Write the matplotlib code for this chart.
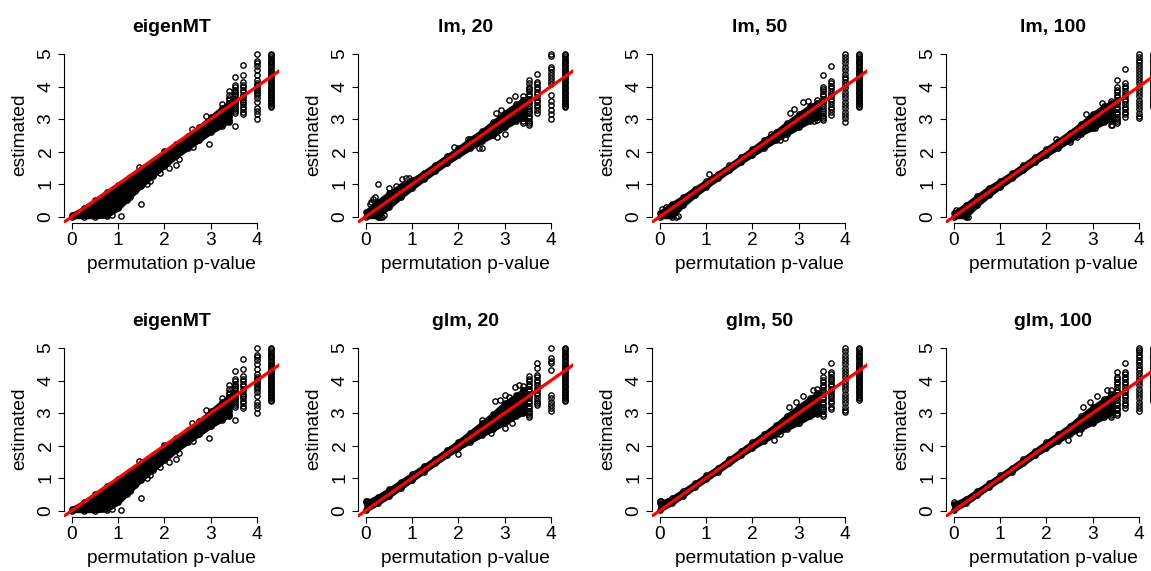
import matplotlib.pyplot as plt

plt.rcParams['font.family'] = ['Liberation Sans', 'DejaVu Sans']

band_x = [0, 0.25, 0.5, 0.75, 1.0, 1.25, 1.5, 1.75, 2.0, 2.25, 2.5, 2.75, 3.0, 3.25, 3.4]
# discrete p-value columns at the top end
col_x = [3.40, 3.52, 3.70, 4.00, 4.30]

col43 = [5.0, 4.96, 4.91, 4.86, 4.8, 4.75, 4.71, 4.65, 4.6, 4.55, 4.49, 4.44, 4.4, 4.34,
         4.29, 4.25, 4.19, 4.14, 4.1, 4.04, 3.99, 3.95, 3.89, 3.84, 3.8, 3.74, 3.69, 3.65,
         3.59, 3.54, 3.5, 3.45, 3.4, 3.36]

# eigenMT
eig_lo = [0, 0, 0, 0.02, 0.25, 0.6, 0.95, 1.25, 1.55, 1.85, 2.1, 2.35, 2.6, 2.8, 2.95]
eig_hi = [0.05, 0.25, 0.5, 0.75, 0.98, 1.22, 1.47, 1.72, 1.97, 2.22, 2.47, 2.75, 3.05, 3.35, 3.5]
eig_cols = [
    [3.85, 3.75, 3.66, 3.58, 3.5, 3.42, 3.35, 3.28, 3.2, 3.12, 3.05, 2.98, 2.9],
    [4.30, 4.05, 3.98, 3.9, 3.83, 3.76, 3.7, 3.63, 3.56, 3.5, 3.43, 3.36, 3.3, 3.24, 3.18, 2.77],
    [4.66, 4.35, 4.13, 4.05, 3.97, 3.9, 3.82, 3.75, 3.68, 3.6, 3.52, 3.45, 3.37, 3.3, 3.22, 3.15],
    [5.0, 4.8, 4.73, 4.62, 4.5, 4.36, 4.2, 4.12, 4.05, 3.98, 3.92, 3.86, 3.8, 3.74, 3.64,
     3.53, 3.33, 3.25, 3.16, 3.0],
    col43,
]
eig_out_x = [1.50, 1.05, 0.87, 2.96, 1.28, 1.36, 1.68, 1.62, 2.09, 2.25, 2.32, 2.62, 2.68,
             2.78, 1.90, 1.18, 0.62, 1.45, 2.00, 2.60, 2.90, 3.25, 3.45]
eig_out_y = [0.39, 0.03, 0.04, 2.23, 0.72, 0.80, 1.08, 1.00, 1.49, 1.57, 1.77, 2.15, 2.42,
             2.55, 1.35, 0.50, 0.55, 1.52, 2.02, 2.68, 3.08, 3.45, 3.55]

# lm, 20
lm20_lo = [0, 0, 0.3, 0.6, 0.88, 1.15, 1.4, 1.65, 1.88, 2.1, 2.32, 2.5, 2.75, 2.95, 3.1]
lm20_hi = [0.15, 0.45, 0.72, 0.95, 1.12, 1.35, 1.6, 1.85, 2.1, 2.38, 2.62, 2.9, 3.2, 3.45, 3.6]
lm20_cols = [
    [3.7, 3.6, 3.5, 3.42, 3.34, 3.26, 3.18, 3.1, 3.02, 2.95, 2.88],
    [4.2, 4.1, 4.0, 3.92, 3.85, 3.78, 3.7, 3.62, 3.55, 3.48, 3.4, 3.32, 3.25, 3.18, 3.1,
     3.02, 2.95, 2.88, 2.82],
    [4.38, 4.15, 4.07, 3.99, 3.92, 3.84, 3.76, 3.68, 3.6, 3.52, 3.44, 3.36, 3.28, 3.2],
    [5.0, 4.95, 4.61, 4.54, 4.46, 4.35, 4.27, 4.17, 4.07, 3.74, 3.56, 3.43, 3.28, 3.15, 3.0],
    col43,
]
lm20_out_x = [0.25, 0.11, 0.16, 0.20, 0.08, 0.50, 0.78, 0.87, 0.93, 0.65, 2.45, 2.50, 2.83,
              2.81, 2.93, 3.22, 3.10, 3.00, 2.20, 1.90, 0.40, 0.35, 0.30]
lm20_out_y = [0.99, 0.46, 0.55, 0.60, 0.38, 0.87, 1.16, 1.20, 1.17, 0.95, 2.10, 2.12, 2.46,
              3.20, 3.28, 3.71, 3.60, 2.55, 2.40, 2.15, 0.05, 0.00, 0.00]

# lm, 50
lm50_lo = [0, 0, 0.35, 0.65, 0.92, 1.17, 1.42, 1.67, 1.9, 2.12, 2.35, 2.55, 2.75, 2.95, 3.05]
lm50_hi = [0.12, 0.38, 0.6, 0.85, 1.08, 1.32, 1.57, 1.82, 2.08, 2.35, 2.6, 2.88, 3.15, 3.4, 3.5]
lm50_cols = [
    [3.6, 3.5, 3.42, 3.35, 3.27, 3.2, 3.12, 3.05, 2.97],
    [4.35, 4.0, 3.92, 3.85, 3.78, 3.7, 3.62, 3.55, 3.48, 3.4, 3.32, 3.25, 3.18, 3.1, 3.03, 2.97],
    [4.64, 4.17, 4.1, 4.02, 3.94, 3.86, 3.78, 3.7, 3.62, 3.54, 3.46, 3.38, 3.3, 3.22, 3.12],
    [5.0, 4.92, 4.81, 4.71, 4.61, 4.5, 4.4, 4.3, 4.23, 4.15, 4.05, 3.94, 3.84, 3.74, 3.64,
     3.53, 3.43, 3.33, 3.23, 3.12, 3.02, 2.92],
    col43,
]
lm50_out_x = [3.10, 2.81, 1.07, 3.33, 2.60, 2.70, 0.05, 0.12, 0.35, 0.38, 2.40, 2.90, 3.20]
lm50_out_y = [3.53, 3.20, 1.31, 2.94, 2.35, 2.42, 0.22, 0.28, 0.00, 0.02, 2.55, 3.30, 3.55]

# lm, 100
lm100_lo = [0, 0, 0.35, 0.65, 0.92, 1.17, 1.42, 1.67, 1.9, 2.12, 2.35, 2.55, 2.72, 2.9, 3.0]
lm100_hi = [0.12, 0.35, 0.62, 0.88, 1.1, 1.33, 1.58, 1.83, 2.08, 2.33, 2.58, 2.85, 3.15, 3.4, 3.5]
lm100_cols = [
    [3.55, 3.47, 3.4, 3.32, 3.25, 3.17, 3.1, 3.02, 2.95, 2.82],
    [4.2, 3.97, 3.9, 3.82, 3.75, 3.67, 3.6, 3.52, 3.45, 3.37, 3.3, 3.22, 3.15, 3.07, 3.0,
     2.93, 2.87],
    [4.54, 4.1, 4.02, 3.94, 3.86, 3.78, 3.7, 3.62, 3.54, 3.46, 3.38, 3.3, 3.22, 3.15, 3.07],
    [5.0, 4.92, 4.83, 4.74, 4.65, 4.56, 4.47, 4.38, 4.29, 4.2, 4.1, 4.0, 3.9, 3.8, 3.7,
     3.6, 3.5, 3.4, 3.3, 3.2, 3.1, 3.02],
    col43,
]
lm100_out_x = [2.86, 3.19, 3.41, 2.50, 2.65, 2.20, 0.30, 0.25, 0.05, 3.05]
lm100_out_y = [3.15, 3.48, 2.82, 2.30, 2.45, 2.40, 0.00, 0.02, 0.20, 2.72]

# glm, 20
glm20_lo = [0.02, 0.22, 0.45, 0.7, 0.95, 1.2, 1.45, 1.7, 1.92, 2.12, 2.32, 2.5, 2.7, 2.9, 3.0]
glm20_hi = [0.25, 0.42, 0.65, 0.88, 1.12, 1.36, 1.6, 1.86, 2.12, 2.4, 2.68, 2.98, 3.3, 3.55, 3.7]
glm20_cols = [
    [3.84, 3.7, 3.6, 3.5, 3.42, 3.34, 3.26, 3.18, 3.1, 3.02],
    [4.15, 4.05, 3.97, 3.9, 3.82, 3.75, 3.67, 3.6, 3.52, 3.45, 3.37, 3.3, 3.22, 3.15, 3.07,
     3.0, 2.93, 2.88],
    [4.53, 4.37, 4.17, 4.1, 4.02, 3.94, 3.86, 3.78, 3.7, 3.62, 3.54, 3.46, 3.38, 3.3, 3.24],
    [5.0, 4.68, 4.6, 4.53, 4.32, 3.55, 3.45, 3.35, 3.25, 3.15, 3.05],
    col43,
]
glm20_out_x = [2.79, 3.22, 1.99, 2.90, 3.00, 3.10, 3.30, 2.70, 3.00, 3.15, 2.50, 0.00, 0.02]
glm20_out_y = [3.36, 3.81, 1.75, 3.40, 3.55, 3.50, 3.85, 2.40, 2.55, 2.70, 2.80, 0.30, 0.28]

# glm, 50
glm50_lo = [0.02, 0.22, 0.46, 0.72, 0.96, 1.2, 1.45, 1.7, 1.93, 2.14, 2.35, 2.52, 2.7, 2.9, 3.0]
glm50_hi = [0.22, 0.38, 0.6, 0.84, 1.08, 1.32, 1.58, 1.84, 2.1, 2.36, 2.62, 2.92, 3.2, 3.45, 3.6]
glm50_cols = [
    [3.75, 3.62, 3.52, 3.44, 3.36, 3.28, 3.2, 3.12, 3.05, 2.98],
    [4.3, 4.1, 4.02, 3.95, 3.87, 3.8, 3.72, 3.65, 3.57, 3.5, 3.42, 3.35, 3.27, 3.2, 3.12,
     3.05, 2.97, 2.9],
    [4.53, 4.27, 4.2, 4.12, 4.05, 3.97, 3.9, 3.82, 3.75, 3.67, 3.6, 3.52, 3.45, 3.37, 3.3,
     3.2, 3.12],
    [5.0, 4.92, 4.8, 4.7, 4.6, 4.5, 4.4, 4.3, 4.2, 4.1, 4.0, 3.9, 3.8, 3.7, 3.6, 3.5, 3.4,
     3.3, 3.2, 3.1, 3.03],
    col43[:-1],
]
glm50_out_x = [2.46, 3.10, 3.30, 2.80, 2.95, 2.60, 3.00, 0.00, 0.03]
glm50_out_y = [2.17, 3.52, 3.70, 3.20, 3.35, 2.35, 2.70, 0.30, 0.28]

# glm, 100
glm100_lo = [0.02, 0.22, 0.47, 0.72, 0.96, 1.2, 1.45, 1.7, 1.93, 2.14, 2.35, 2.52, 2.7, 2.88, 3.0]
glm100_hi = [0.2, 0.36, 0.6, 0.84, 1.08, 1.32, 1.58, 1.84, 2.1, 2.35, 2.6, 2.9, 3.18, 3.42, 3.55]
glm100_cols = [
    [3.72, 3.6, 3.5, 3.42, 3.34, 3.26, 3.18, 3.1, 3.03, 2.95, 2.88],
    [4.25, 4.12, 4.04, 3.96, 3.88, 3.8, 3.72, 3.64, 3.56, 3.48, 3.4, 3.32, 3.24, 3.16, 3.08,
     3.0, 2.93],
    [4.55, 4.27, 4.2, 4.12, 4.04, 3.96, 3.88, 3.8, 3.72, 3.64, 3.56, 3.48, 3.4, 3.32, 3.24, 3.16],
    [5.0, 4.95, 4.88, 4.8, 4.72, 4.64, 4.56, 4.48, 4.4, 4.32, 4.24, 4.15, 4.05, 3.95, 3.85,
     3.75, 3.65, 3.55, 3.45, 3.35, 3.25, 3.15, 3.05],
    col43,
]
glm100_out_x = [2.46, 3.10, 3.30, 2.80, 2.95, 2.70, 3.00, 0.00]
glm100_out_y = [2.17, 3.52, 3.72, 3.20, 3.35, 2.40, 2.72, 0.25]

panels = [
    ("eigenMT", eig_lo, eig_hi, eig_cols, eig_out_x, eig_out_y),
    ("lm, 20", lm20_lo, lm20_hi, lm20_cols, lm20_out_x, lm20_out_y),
    ("lm, 50", lm50_lo, lm50_hi, lm50_cols, lm50_out_x, lm50_out_y),
    ("lm, 100", lm100_lo, lm100_hi, lm100_cols, lm100_out_x, lm100_out_y),
    ("eigenMT", eig_lo, eig_hi, eig_cols, eig_out_x, eig_out_y),
    ("glm, 20", glm20_lo, glm20_hi, glm20_cols, glm20_out_x, glm20_out_y),
    ("glm, 50", glm50_lo, glm50_hi, glm50_cols, glm50_out_x, glm50_out_y),
    ("glm, 100", glm100_lo, glm100_hi, glm100_cols, glm100_out_x, glm100_out_y),
]

W, H = 1151, 571
fig = plt.figure(figsize=(W / 100, H / 100), dpi=100)

fs = 13.8
circ = dict(ls='none', marker='o', mfc='none', mec='black', ms=3.8, mew=1.0)

for i, (title, lo, hi, cols, ox, oy) in enumerate(panels):
    r, c = divmod(i, 4)
    left = 64 + 294 * c
    top = 47.5 + 294 * r
    ax = fig.add_axes([left / W, 1 - (top + 175.5) / H, 214.8 / W, 175.5 / H])

    # dense part of the cloud
    ax.fill_between(band_x, lo, hi, color='black', lw=3.2)
    ax.plot(band_x, lo, **circ)
    ax.plot(band_x, hi, **circ)
    # scattered points and the discrete p-value columns
    ax.plot(ox, oy, **circ)
    for cx, ys in zip(col_x, cols):
        ax.plot([cx] * len(ys), ys, **circ)

    ax.axline((0, 0), slope=1, color='red', lw=2.3, zorder=5)

    ax.set_xlim(-0.172, 4.472)
    ax.set_ylim(-0.2, 5.2)
    ax.set_xticks([0, 1, 2, 3, 4])
    ax.set_yticks([0, 1, 2, 3, 4, 5])
    for s in ['top', 'right']:
        ax.spines[s].set_visible(False)
    ax.spines['bottom'].set_bounds(0, 4)
    ax.spines['left'].set_bounds(0, 5)
    for s in ['bottom', 'left']:
        ax.spines[s].set_linewidth(0.8)
    ax.tick_params(direction='out', length=4.3, width=0.8, labelsize=fs, pad=2.5)
    plt.setp(ax.get_yticklabels(), rotation=90, va='center')

    ax.set_title(title, fontsize=14, fontweight='bold', pad=11)
    ax.set_xlabel("permutation p-value", fontsize=fs, labelpad=5)
    ax.set_ylabel("estimated", fontsize=fs, labelpad=7)

fig.savefig("out.png", dpi=100)
